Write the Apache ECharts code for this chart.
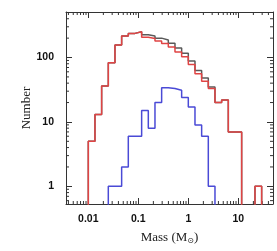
<!DOCTYPE html>
<html><head><meta charset="utf-8">
<script src="https://cdn.jsdelivr.net/npm/echarts@6/dist/echarts.min.js"></script>
<style>html,body{margin:0;padding:0;background:#fff}#c{width:277px;height:251px}</style>
</head><body><div id="c"></div>
<script>
// Bin edges (solar masses), log-spaced histogram bins
const binEdges = [0.01, 0.013594, 0.018478, 0.025119, 0.034146, 0.046416, 0.063096, 0.08577,
  0.11659, 0.15849, 0.21544, 0.29286, 0.39811, 0.54117, 0.73564, 1.0, 1.3594, 1.8478,
  2.5119, 3.4146, 4.6416, 6.3096, 8.577, 11.659, 15.849, 21.544, 29.286];
// Counts per bin (index = bin number); 0 = empty
const allCounts  = [5, 13, 36, 83, 156, 215, 237, 251, 225, 215, 200, 187, 167, 140, 117, 88, 63, 48, 35, 20, 22, 7, 7, 0, 0, 1];
const redCounts  = [5, 13, 36, 83, 156, 215, 237, 251, 207, 197, 180, 165, 146, 122, 103, 78, 56, 43, 33, 20, 22, 7, 7, 0, 0, 1];
const blueCounts = [0, 0, 0, 1, 1, 2, 6, 6, 15, 8, 20, 34, 33, 31, 24, 17, 9, 6, 1, 0, 0, 0, 0, 0, 0, 0];

const xTickLabels = ['0.01', '0.1', '1', '10'];
const yTickLabels = ['1', '10', '100'];
const xMinorTicks = [0.004,0.005,0.006,0.007,0.008,0.009, 0.02,0.03,0.04,0.05,0.06,0.07,0.08,0.09,
  0.2,0.3,0.4,0.5,0.6,0.7,0.8,0.9, 2,3,4,5,6,7,8,9, 20,30,40];
const yMinorTicks = [0.6,0.7,0.8,0.9, 2,3,4,5,6,7,8,9, 20,30,40,50,60,70,80,90, 200,300,400,500];

const X_MIN = 0.00358, X_MAX = 49.4, Y_MIN = 0.532, Y_MAX = 509;
const FLOOR = 0.3; // below the axis, clipped away

function stepPath(counts) {
  const pts = [];
  let prev = 0;
  for (let i = 0; i < counts.length; i++) {
    const c = counts[i];
    const a = binEdges[i], b = binEdges[i + 1];
    const cv = c > 0 ? c : FLOOR;
    const pv = prev > 0 ? prev : FLOOR;
    if (c > 0 || prev > 0) {
      pts.push([a, pv]);
      pts.push([a, cv]);
    }
    if (c > 0) pts.push([b, cv]);
    prev = c;
  }
  if (prev > 0) pts.push([binEdges[counts.length], FLOOR]);
  return pts;
}

const FRAME = '#333';
const labelFmt = (list) => (v) => {
  const s = String(+(+v).toPrecision(6));
  return list.indexOf(s) >= 0 ? s : '';
};
const labelStyle = {color: '#111', fontSize: 10.5, fontWeight: 'bold', fontFamily: 'Liberation Sans'};

const chart = echarts.init(document.getElementById('c'), null, {renderer: 'canvas'});
chart.setOption({
  animation: false,
  grid: {left: 66, right: 4, top: 12, bottom: 47},
  xAxis: [{
    type: 'log', min: X_MIN, max: X_MAX, position: 'bottom',
    axisLine: {show: true, lineStyle: {color: FRAME, width: 1}},
    axisTick: {show: true, inside: true, length: 6, lineStyle: {color: FRAME}},
    splitLine: {show: false},
    axisLabel: Object.assign({formatter: labelFmt(xTickLabels), margin: 10, showMinLabel: false, showMaxLabel: false}, labelStyle),
    name: 'Mass (M{sub|⊙})', nameLocation: 'middle', nameGap: 26, nameMoveOverlap: false,
    nameTextStyle: {color: '#222', fontSize: 13, fontFamily: 'Liberation Serif', verticalAlign: 'top',
      rich: {sub: {fontSize: 8, fontFamily: 'DejaVu Sans', color: '#222', padding: [7, 0, 0, 0]}}}
  }, {
    type: 'log', min: X_MIN, max: X_MAX, position: 'top',
    axisLine: {show: true, lineStyle: {color: FRAME, width: 1}},
    axisTick: {show: true, inside: true, length: 6, lineStyle: {color: FRAME}},
    splitLine: {show: false}, axisLabel: {show: false}
  }],
  yAxis: [{
    type: 'log', min: Y_MIN, max: Y_MAX, position: 'left',
    axisLine: {show: true, lineStyle: {color: FRAME, width: 1}},
    axisTick: {show: true, inside: true, length: 6, lineStyle: {color: FRAME}},
    splitLine: {show: false},
    axisLabel: Object.assign({formatter: labelFmt(yTickLabels), margin: 12, showMinLabel: false, showMaxLabel: false}, labelStyle),
    name: 'Number', nameLocation: 'middle', nameGap: 33, nameRotate: 90, nameMoveOverlap: false,
    nameTextStyle: {color: '#222', fontSize: 13, fontFamily: 'Liberation Serif'}
  }, {
    type: 'log', min: Y_MIN, max: Y_MAX, position: 'right',
    axisLine: {show: true, lineStyle: {color: FRAME, width: 1}},
    axisTick: {show: true, inside: true, length: 6, lineStyle: {color: FRAME}},
    splitLine: {show: false}, axisLabel: {show: false}
  }],
  series: [
    {type: 'line', data: stepPath(allCounts), showSymbol: false, symbol: 'none', clip: true,
      lineStyle: {color: '#5a5a5a', width: 1.5}},
    {type: 'line', data: stepPath(redCounts), showSymbol: false, symbol: 'none', clip: true,
      lineStyle: {color: '#e04444', width: 1.5}},
    {type: 'line', data: stepPath(blueCounts), showSymbol: false, symbol: 'none', clip: true,
      lineStyle: {color: '#4a4ad6', width: 1.5}},
    {type: 'custom', data: xMinorTicks.map(v => [v, Y_MIN]), clip: false, silent: true,
      renderItem: (params, api) => {
        const v = api.value(0);
        const b = api.coord([v, Y_MIN]), t = api.coord([v, Y_MAX]);
        return {type: 'group', children: [
          {type: 'line', shape: {x1: b[0], y1: b[1], x2: b[0], y2: b[1] - 3}, style: {stroke: FRAME, lineWidth: 1}},
          {type: 'line', shape: {x1: t[0], y1: t[1], x2: t[0], y2: t[1] + 3}, style: {stroke: FRAME, lineWidth: 1}}
        ]};
      }},
    {type: 'custom', data: yMinorTicks.map(v => [X_MIN, v]), clip: false, silent: true,
      renderItem: (params, api) => {
        const v = api.value(1);
        const l = api.coord([X_MIN, v]), r = api.coord([X_MAX, v]);
        return {type: 'group', children: [
          {type: 'line', shape: {x1: l[0], y1: l[1], x2: l[0] + 3, y2: l[1]}, style: {stroke: FRAME, lineWidth: 1}},
          {type: 'line', shape: {x1: r[0], y1: r[1], x2: r[0] - 3, y2: r[1]}, style: {stroke: FRAME, lineWidth: 1}}
        ]};
      }}
  ]
});
</script></body></html>
